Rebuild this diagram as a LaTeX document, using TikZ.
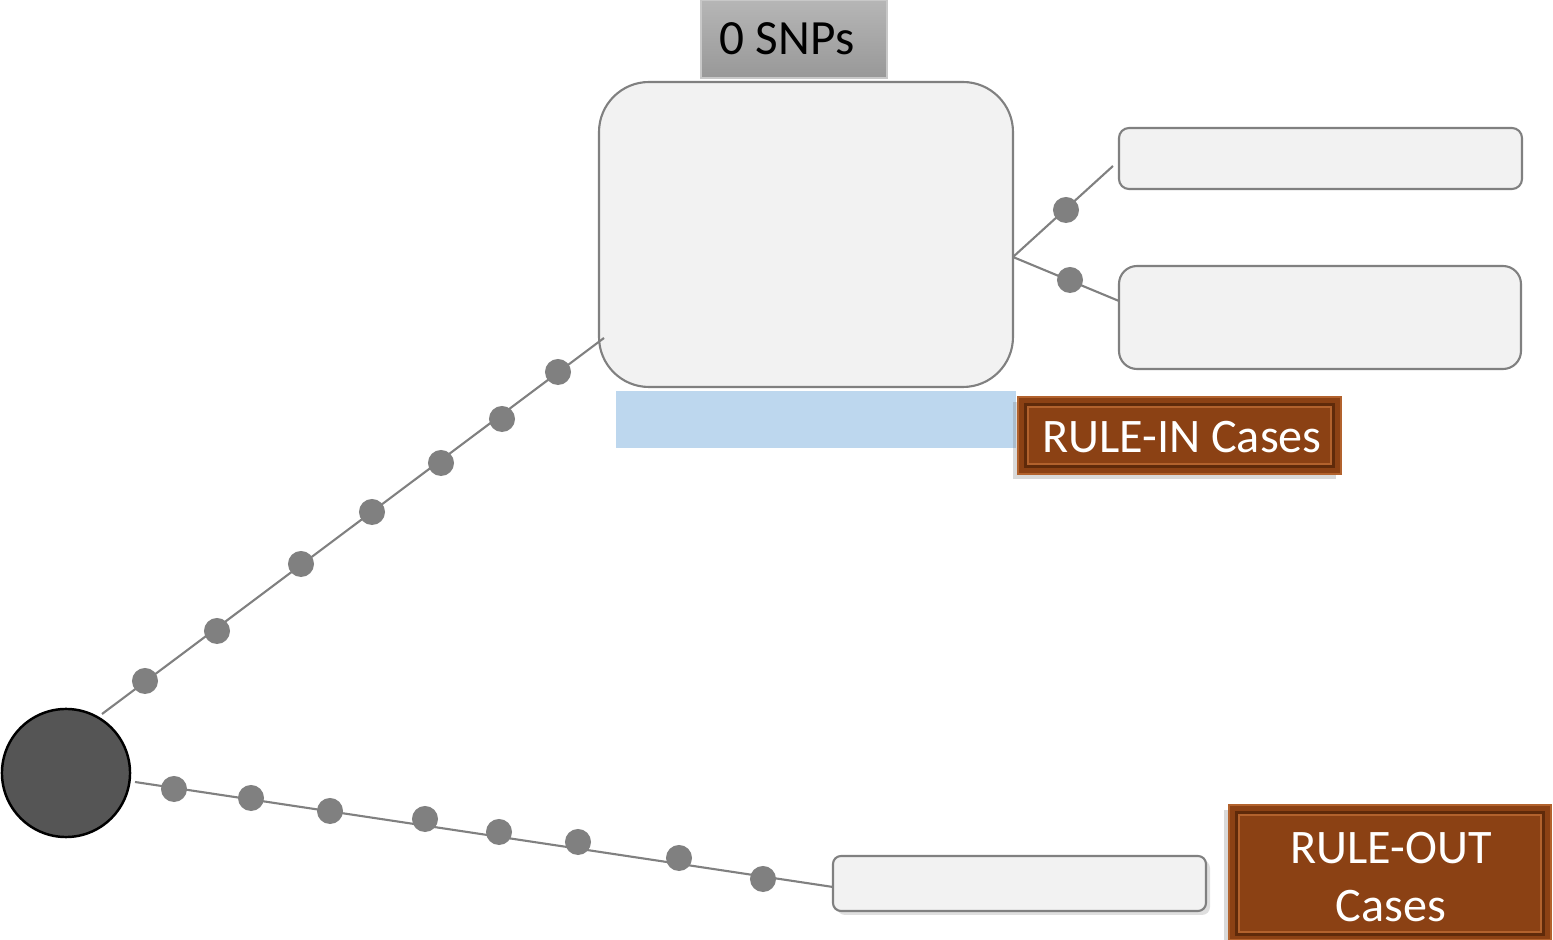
\documentclass[tikz,border=0pt]{standalone}
\usepackage{fontspec}
\setmainfont{Carlito}
\usetikzlibrary{shadows}
\definecolor{linegray}{RGB}{128,128,128}
\definecolor{boxfill}{RGB}{242,242,242}
\definecolor{rootfill}{RGB}{85,85,85}
\definecolor{paleblue}{RGB}{189,215,238}
\definecolor{brownmain}{RGB}{139,65,20}
\definecolor{browndark}{RGB}{95,42,10}
\definecolor{brownlight}{RGB}{178,98,45}
\tikzset{
  x=0.01cm, y=-0.01cm,
  link/.style={draw=linegray, line width=0.6pt},
  bead/.style={circle, fill=linegray, inner sep=0pt, minimum size=0.26cm},
  panel/.style={draw=linegray, line width=0.6pt, fill=boxfill},
  plate/.style={fill=brownmain, draw=brownlight, line width=0.8pt,
    drop shadow={opacity=0.3, shadow xshift=-0.05cm, shadow yshift=-0.05cm}},
  platetext/.style={text=white, font=\fontsize{13.7}{16.5}\selectfont, align=center},
}
\begin{document}
\begin{tikzpicture}
\useasboundingbox (0,0) rectangle (1553,940);

% central hub
\node[circle, draw=black, line width=0.7pt, fill=rootfill, minimum size=1.28cm, inner sep=0pt] (root) at (66,773) {};
\coordinate (upS) at (102,714);
\coordinate (lowS) at (135,782);

% main rounded panel and its tag
\draw[panel, rounded corners=0.5cm] (599,82) rectangle (1013,387);
\coordinate (mainW) at (604,338);
\coordinate (mainE) at (1013,257);
\shade[top color={rgb,255:red,182;green,182;blue,182}, bottom color={rgb,255:red,152;green,152;blue,152}, draw={rgb,255:red,200;green,200;blue,200}, line width=0.4pt]
  (701,0) rectangle (887,78);
\node[font=\fontsize{14}{16}\selectfont, text=black] (snps) at (787,39) {0 SNPs};
\fill[paleblue] (616,391) rectangle (1016,448);

% right-hand panels
\draw[panel, rounded corners=0.1cm] (1119,128) rectangle (1522,189);
\draw[panel, rounded corners=0.18cm] (1119,266) rectangle (1521,369);
\coordinate (topA) at (1113,166);
\coordinate (topB) at (1119,301);

% bottom panel
\draw[panel, rounded corners=0.08cm, drop shadow={opacity=0.25, shadow xshift=0.04cm, shadow yshift=-0.04cm}] (833,856) rectangle (1206,911);
\coordinate (lowE) at (833,887);

% upper branch
\draw[link] (upS) -- (mainW);
\foreach \p [count=\i] in {(145,681),(217,631),(301,564),(372,512),(441,463),(502,419),(558,372)}
  \node[bead] (u\i) at \p {};

% lower branch
\draw[link] (lowS) -- (lowE);
\foreach \p [count=\i] in {(174,789),(251,798),(330,811),(425,819),(499,832),(578,842),(679,858),(763,879)}
  \node[bead] (l\i) at \p {};

% branches to the right-hand panels
\draw[link] (mainE) -- (topA);
\draw[link] (mainE) -- (topB);
\node[bead] (r1) at (1066,210) {};
\node[bead] (r2) at (1070,280) {};

% rule-in plate
\draw[plate] (1018,397) rectangle (1341,474);
\draw[browndark, line width=0.9pt] (1026,405) rectangle (1333,466);
\draw[brownlight, line width=0.4pt] (1028,407) rectangle (1331,464);
\node[platetext] (rulein) at (1182,437) {RULE-IN Cases};

% rule-out plate
\draw[plate] (1229,805) rectangle (1551,940);
\draw[browndark, line width=0.9pt] (1237,813) rectangle (1543,934);
\draw[brownlight, line width=0.4pt] (1239,815) rectangle (1541,932);
\node[platetext] (ruleout) at (1391,877) {RULE-OUT\\Cases};
\end{tikzpicture}
\end{document}
